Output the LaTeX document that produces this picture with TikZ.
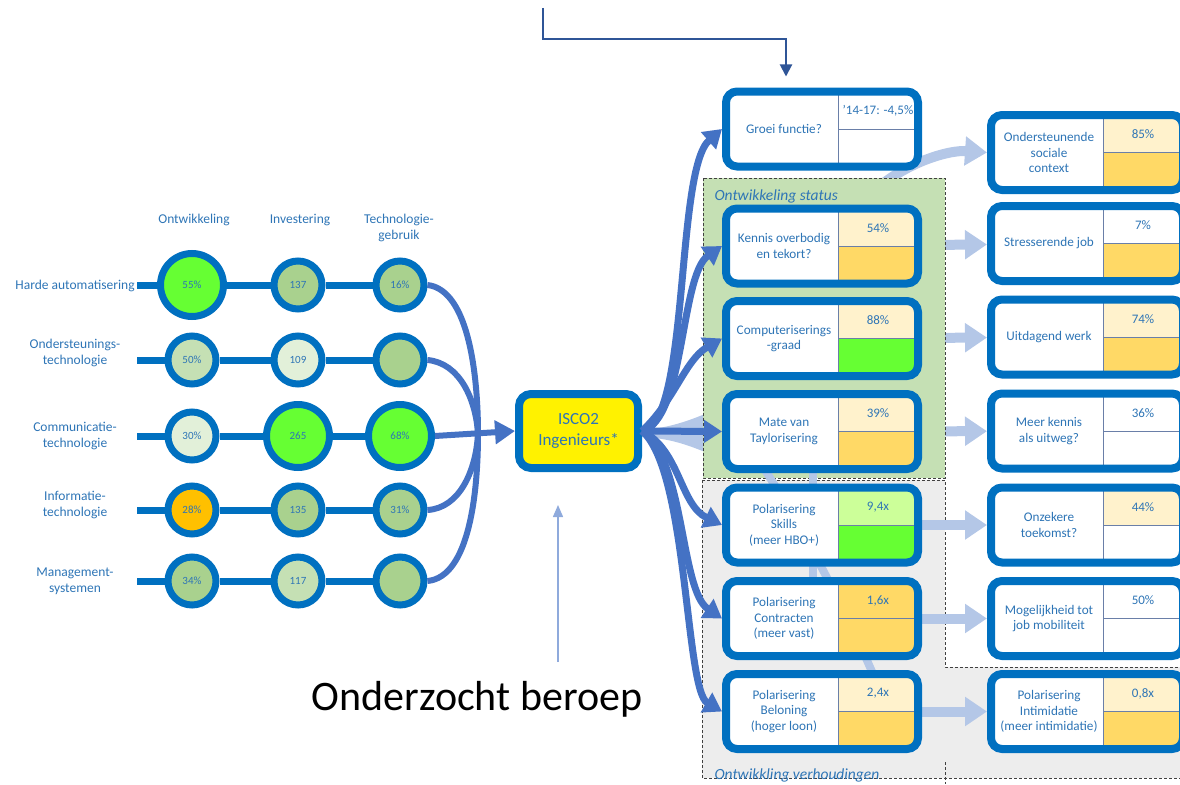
\documentclass[tikz,border=0pt]{standalone}
\usepackage{fontspec}
\setmainfont{Carlito}
\usetikzlibrary{arrows.meta,calc,positioning}
\definecolor{boxblue}{HTML}{0070C0}
\definecolor{txtblue}{HTML}{2E75B6}
\definecolor{arrowblue}{HTML}{4472C4}
\definecolor{hintblue}{HTML}{B4C7E7}
\definecolor{topblue}{HTML}{2F5597}
\definecolor{probeblue}{HTML}{8FAADC}
\definecolor{cbright}{HTML}{66FF33}
\definecolor{cmid}{HTML}{A9D18E}
\definecolor{clight}{HTML}{C5E0B4}
\definecolor{cpale}{HTML}{E2F0D9}
\definecolor{corange}{HTML}{FFC000}
\definecolor{cellcream}{HTML}{FFF2CC}
\definecolor{cellgold}{HTML}{FFD966}
\definecolor{celllime}{HTML}{CCFF99}
\definecolor{cellrulecol}{HTML}{6A7FA8}
\definecolor{zonegreen}{HTML}{C5E0B4}
\definecolor{zonegrey}{HTML}{EDEDED}
\definecolor{zoneedge}{HTML}{404040}
\pgfdeclarelayer{under}
\pgfdeclarelayer{zones}
\pgfdeclarelayer{over}
\pgfsetlayers{under,zones,over,main}
\tikzset{
  dot/.style={
    shape = circle,
    draw = boxblue,
    line width = 7pt,
    inner sep = 0pt,
    text = txtblue,
    font = \fontsize{11}{12}\selectfont
  },
  head/.style={
    text = txtblue,
    align = center,
    font = \fontsize{13.5}{16}\selectfont
  },
  rowline/.style={
    draw = boxblue,
    line width = 7pt
  },
  feed/.style={
    draw = arrowblue,
    line width = 6pt
  },
  feedarrow/.style={
    feed,
    -{Triangle[length=20pt,width=23pt]}
  },
  isco/.style={
    draw = boxblue,
    line width = 8pt,
    fill = yellow,
    rounded corners = 12pt,
    minimum width = 119pt,
    minimum height = 74pt,
    text = txtblue,
    align = center,
    font = \fontsize{17}{21}\selectfont
  },
  statbox/.style={
    draw = boxblue,
    line width = 8pt,
    fill = white,
    rounded corners = 11pt,
    minimum width = 192pt,
    minimum height = 75pt,
    inner sep = 0pt
  },
  cellrule/.style={
    draw = cellrulecol,
    line width = 1pt,
    sharp corners
  },
  boxtext/.style={
    text = txtblue,
    align = center,
    font = \fontsize{13.2}{15.5}\selectfont
  },
  valtext/.style={
    text = txtblue,
    font = \fontsize{13}{15}\selectfont
  },
  fan/.style={
    draw = arrowblue,
    line width = 7pt,
    -{Triangle[length=18pt,width=22pt]}
  },
  hint/.style={
    draw = hintblue,
    line width = 10pt,
    -{Triangle[length=22pt,width=28pt]}
  },
  hintline/.style={
    draw = hintblue,
    line width = 8pt
  },
  zone/.style={
    draw = zoneedge,
    line width = 1pt,
    dash pattern = on 3pt off 2pt
  },
  zonelab/.style={
    text = txtblue,
    anchor = base west,
    font = \fontsize{15.5}{17}\selectfont\itshape
  },
  toparrow/.style={
    draw = topblue,
    line width = 2pt,
    -{Triangle[length=12pt,width=12pt]}
  },
  probearrow/.style={
    draw = probeblue,
    line width = 1.5pt,
    -{Triangle[length=12pt,width=10pt]}
  }
}
% box with label left, value cell and colour cell right
\newcommand{\statbox}[7]{%
  \node[statbox, path picture={
      \fill[#6, sharp corners] (path picture bounding box.center) ++(16,0) rectangle ++(84,-40);
      \fill[#7, sharp corners] (path picture bounding box.center) ++(16,0) rectangle ++(84,40);
      \draw[cellrule] (path picture bounding box.center) ++(16,-40) -- ++(0,80);
      \draw[cellrule] (path picture bounding box.center) ++(16,0) -- ++(84,0);
    }] (#1) at (#2,#3) {};
  \node[boxtext] (#1-txt) at (#2-38,#3) {#4};
  \node[valtext] (#1-val) at (#2+56,#3-18) {#5};
}

\begin{document}
\begin{tikzpicture}[x=1pt,y=-1pt]
  \useasboundingbox (0,0) rectangle (1180,784);

  % technologies
  \node[head] (hdOnt) at (194,220) {Ontwikkeling};
  \node[head] (hdInv) at (300,220) {Investering};
  \node[head] (hdTech) at (399,228) {Technologie-\\gebruik};
  \foreach \k/\y/\txt in {1/286/Harde automatisering, 2/353/Ondersteunings-\\technologie,
      3/436/Communicatie-\\technologie, 4/505/Informatie-\\technologie, 5/581/Management-\\systemen}
    \node[head] (lab\k) at (75,\y) {\txt};
  \foreach \n/\x/\y/\sz/\col/\txt in {
      h1c1/192/285/63pt/cbright/55\%, h1c2/298/285/48pt/cmid/137, h1c3/400/285/48pt/cmid/16\%,
      h2c1/192/360/48pt/clight/50\%, h2c2/298/360/48pt/cpale/109, h2c3/400/360/48pt/cmid/{},
      h3c1/192/436/48pt/cpale/30\%, h3c2/298/436/63pt/cbright/265, h3c3/400/436/63pt/cbright/68\%,
      h4c1/192/510/48pt/corange/28\%, h4c2/298/510/48pt/cmid/135, h4c3/400/510/48pt/cmid/31\%,
      h5c1/192/581/48pt/cmid/34\%, h5c2/298/581/48pt/clight/117, h5c3/400/581/48pt/cmid/{}}
    \node[dot, minimum size=\sz, fill=\col] (\n) at (\x,\y) {\txt};
  \foreach \k/\y in {1/285,2/360,3/436,4/510,5/581}{
    \coordinate (r\k s) at (137,\y);
    \draw[rowline] (r\k s) -- (h\k c1) -- (h\k c2) -- (h\k c3);
  }

  % occupation
  \node[isco] (isco) at (578.5,431) {ISCO2\\Ingenieurs*};
  \coordinate (merge) at (478,434);
  \draw[feed] (h1c3.east) .. controls (470,290) and (478,380) .. (merge);
  \draw[feed] (h2c3.east) .. controls (460,363) and (476,400) .. (merge);
  \draw[feed] (h4c3.east) .. controls (460,508) and (476,470) .. (merge);
  \draw[feed] (h5c3.east) .. controls (470,577) and (478,490) .. (merge);
  \draw[feedarrow] (h3c3.east) -- (isco.west);
  \node[anchor=base, font=\fontsize{42}{50}\selectfont] (beroep) at (477,710) {Onderzocht beroep};
  \coordinate (probe) at (558,662);
  \draw[probearrow] (probe) -- ([xshift=-20.5pt,yshift=-33pt]isco.south);

  % boxes
  \statbox{groei}{822}{129}{Groei functie?}{’14-17: -4,5\%}{white}{white}
  \statbox{kennis}{822}{246}{Kennis overbodig\\en tekort?}{54\%}{cellcream}{cellgold}
  \statbox{comp}{822}{338.5}{Computeriserings\\-graad}{88\%}{cellcream}{cbright}
  \statbox{mate}{822}{431.5}{Mate van\\Taylorisering}{39\%}{cellcream}{cellgold}
  \statbox{skills}{822}{525}{Polarisering\\Skills\\(meer HBO+)}{9,4x}{celllime}{cbright}
  \statbox{contr}{822}{618.5}{Polarisering\\Contracten\\(meer vast)}{1,6x}{cellgold}{cellgold}
  \statbox{belon}{822}{711.5}{Polarisering\\Beloning\\(hoger loon)}{2,4x}{cellcream}{cellgold}
  \statbox{onder}{1087}{152.5}{Ondersteunende\\sociale\\context}{85\%}{cellcream}{cellgold}
  \statbox{stress}{1087}{243.5}{Stresserende job}{7\%}{white}{cellgold}
  \statbox{uitd}{1087}{337}{Uitdagend werk}{74\%}{cellcream}{cellgold}
  \statbox{meer}{1087}{431}{Meer kennis\\als uitweg?}{36\%}{white}{white}
  \statbox{onzek}{1087}{525}{Onzekere\\toekomst?}{44\%}{cellcream}{white}
  \statbox{mobil}{1087}{618.5}{Mogelijkheid tot\\job mobiliteit}{50\%}{white}{white}
  \statbox{intim}{1087}{711.5}{Polarisering\\Intimidatie\\(meer intimidatie)}{0,8x}{cellcream}{cellgold}

  \coordinate (topin) at (543,8);
  \draw[toparrow] (topin) |- ([xshift=-36pt,yshift=48pt]groei.north) -- ([xshift=-36pt,yshift=11pt]groei.north);

  \draw[fan] (isco.east) .. controls (690,425) and (675,170) .. (groei.west);
  \draw[fan] (isco.east) .. controls (685,420) and (680,275) .. (kennis.west);
  \draw[fan] (isco.east) .. controls (675,400) and (685,360) .. (comp.west);
  \draw[fan] (isco.east) -- (mate.west);
  \draw[fan] (isco.east) .. controls (680,450) and (680,505) .. (skills.west);
  \draw[fan] (isco.east) .. controls (685,460) and (680,590) .. (contr.west);
  \draw[fan] (isco.east) .. controls (688,470) and (685,690) .. (belon.west);

  \begin{pgfonlayer}{under}
    \fill[hintblue] (642,430) .. controls (670,428) and (690,420) .. (705,414) -- (705,452)
      .. controls (690,446) and (670,438) .. (642,437) -- cycle;
    \coordinate (ondstart) at (885,182);
    \draw[hint] (ondstart) .. controls (915,160) and (950,150) .. (onder.west);
    \draw[hint] (kennis) -- (stress);
    \draw[hint] (comp) -- (uitd);
    \draw[hint] (mate) -- (meer);
  \end{pgfonlayer}

  \begin{pgfonlayer}{zones}
    \fill[zonegrey] (702,480) -- (945,480) -- (945,667) -- (1190,667) -- (1190,778) -- (702,778) -- cycle;
    \draw[zone] (702,480) -- (945,480) -- (945,667) -- (1190,667);
    \draw[zone] (702,480) -- (702,778) -- (1190,778);
    \draw[zone] (945,762) -- (945,784);
    \fill[zonegreen] (703,178) rectangle (945,478);
    \draw[zone] (703,178) rectangle (945,478);
  \end{pgfonlayer}

  \begin{pgfonlayer}{over}
    \draw[hintline] (813,470) -- (813,590);
    \draw[hintline] (765,470) .. controls (810,540) and (850,620) .. (880,690);
    \draw[hint] (skills) -- (onzek);
    \draw[hint] (contr) -- (mobil);
    \draw[hint] (belon) -- (intim);
  \end{pgfonlayer}

  \node[zonelab] (statlab) at (711,200) {Ontwikkeling status};
  \node[zonelab] (verhlab) at (711,779) {Ontwikkling verhoudingen};
\end{tikzpicture}
\end{document}
